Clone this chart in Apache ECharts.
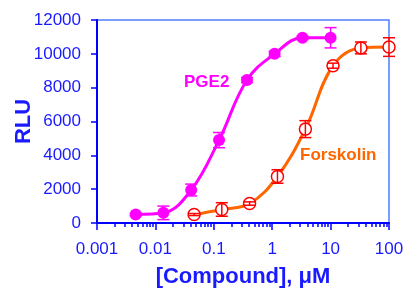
<!DOCTYPE html>
<html>
<head>
<meta charset="UTF-8">
<script src="https://cdn.jsdelivr.net/npm/echarts@6/dist/echarts.min.js"></script>
<style>
  body { margin: 0; background: #fff; }
  #chart { width: 406px; height: 289px; }
</style>
</head>
<body>
<div id="chart"></div>
<script>
// concentrations in uM (3-fold dilutions) and RLU
var pgeConc = [0.0046, 0.0137, 0.041, 0.123, 0.37, 1.1, 3.3, 10];
var pgeRlu  = [500, 600, 1950, 4900, 8450, 10000, 10950, 10950];
var pgeErr  = [80, 400, 350, 450, 150, 150, 100, 600];

var fskConc = [0.046, 0.137, 0.41, 1.23, 3.7, 11, 33, 100];
var fskRlu  = [500, 800, 1150, 2750, 5550, 9300, 10350, 10400];
var fskErr  = [60, 400, 100, 400, 500, 150, 350, 550];

var xTickLabels = ['0.001', '0.01', '0.1', '1', '10', '100'];
var yTicks = [0, 2000, 4000, 6000, 8000, 10000, 12000];

var blue = '#1a1aff';

// minor log ticks 2..9 in every decade
var decades = [0.001, 0.01, 0.1, 1, 10];
var minorTicks = [];
decades.forEach(function (d) {
  for (var m = 2; m <= 9; m++) minorTicks.push(+(d * m).toPrecision(3));
});

function pairs(xs, ys) {
  return xs.map(function (x, i) { return [x, ys[i]]; });
}
function errData(xs, ys, es) {
  return xs.map(function (x, i) { return [x, ys[i] - es[i], ys[i] + es[i]]; });
}
function errRender(color) {
  return function (params, api) {
    var lo = api.coord([api.value(0), api.value(1)]);
    var hi = api.coord([api.value(0), api.value(2)]);
    var w = 6;
    var st = { stroke: color, lineWidth: 1.5 };
    return {
      type: 'group',
      children: [
        { type: 'line', shape: { x1: lo[0], y1: lo[1], x2: hi[0], y2: hi[1] }, style: st },
        { type: 'line', shape: { x1: lo[0] - w, y1: lo[1], x2: lo[0] + w, y2: lo[1] }, style: st },
        { type: 'line', shape: { x1: hi[0] - w, y1: hi[1], x2: hi[0] + w, y2: hi[1] }, style: st }
      ]
    };
  };
}

var chart = echarts.init(document.getElementById('chart'));
var option = {
  animation: false,
  grid: {
    left: 97, right: 17, top: 20, bottom: 66,
    outerBoundsMode: 'none', containLabel: false,
    show: true, borderColor: '#4d7fff', borderWidth: 1.5
  },
  xAxis: [{
    type: 'log', logBase: 10, min: 0.001, max: 100,
    name: '[Compound], \u03bcM',
    nameLocation: 'middle', nameGap: 43, nameMoveOverlap: false,
    nameTextStyle: { color: blue, fontSize: 22, fontWeight: 'bold', fontFamily: 'Liberation Sans' },
    axisLine: { lineStyle: { color: '#0000ff', width: 2 } },
    axisTick: { length: 7, lineStyle: { color: '#0000ff', width: 1.5 } },
    axisLabel: {
      color: blue, fontSize: 17, fontFamily: 'Liberation Sans', margin: 18,
      formatter: function (v, i) { return xTickLabels[i]; }
    },
    splitLine: { show: false }
  }, {
    // only carries the minor ticks
    type: 'log', logBase: 10, min: 0.001, max: 100, position: 'bottom',
    axisLine: { show: false },
    axisTick: { show: true, length: 4, customValues: minorTicks,
                lineStyle: { color: '#0000ff', width: 1.5 } },
    axisLabel: { show: false },
    splitLine: { show: false }
  }],
  yAxis: {
    type: 'value', min: 0, max: 12000, interval: 2000,
    name: 'RLU',
    nameLocation: 'middle', nameGap: 62, nameMoveOverlap: false,
    nameTextStyle: { color: blue, fontSize: 22, fontWeight: 'bold', fontFamily: 'Liberation Sans' },
    axisLine: { show: true, lineStyle: { color: '#0000ff', width: 2 } },
    axisTick: { show: true, length: 6, lineStyle: { color: '#0000ff', width: 1.5 } },
    axisLabel: {
      color: blue, fontSize: 17, fontFamily: 'Liberation Sans', margin: 16,
      formatter: function (v) { return yTicks.indexOf(v) >= 0 ? String(v) : ''; }
    },
    splitLine: { show: false }
  },
  graphic: [
    { type: 'text', left: 184, top: 74,
      style: { text: 'PGE2', fill: '#ff00ff', font: 'bold 17px "Liberation Sans"' } },
    { type: 'text', left: 300, top: 147,
      style: { text: 'Forskolin', fill: '#ff6600', font: 'bold 17px "Liberation Sans"' } }
  ],
  series: [
    {
      name: 'PGE2', type: 'line', smooth: 0.4, data: pairs(pgeConc, pgeRlu),
      symbol: 'circle', symbolSize: 12, z: 3,
      lineStyle: { color: '#ff00ff', width: 3 },
      itemStyle: { color: '#ff00ff' }
    },
    {
      name: 'Forskolin', type: 'line', smooth: 0.4, data: pairs(fskConc, fskRlu),
      symbol: 'circle', symbolSize: 12, z: 3,
      lineStyle: { color: '#ff6600', width: 3 },
      itemStyle: { color: '#ffffff', borderColor: '#ff0000', borderWidth: 1.5 }
    },
    {
      type: 'custom', data: errData(pgeConc, pgeRlu, pgeErr), z: 4,
      renderItem: errRender('#ff00ff')
    },
    {
      type: 'custom', data: errData(fskConc, fskRlu, fskErr), z: 4,
      renderItem: errRender('#ff0000')
    }
  ]
};
chart.setOption(option);
</script>
</body>
</html>
